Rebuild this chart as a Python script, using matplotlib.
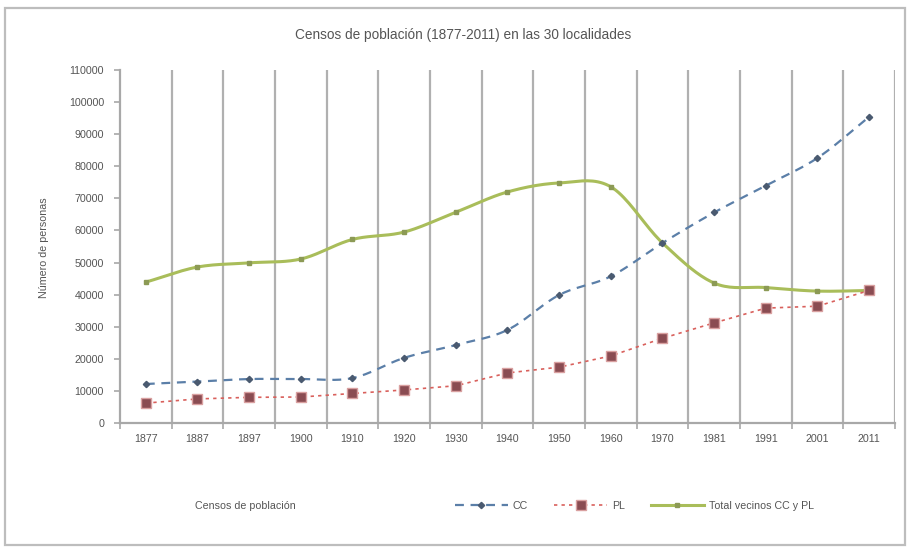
import numpy as np
import matplotlib
matplotlib.use("Agg")
import matplotlib.pyplot as plt
from matplotlib.lines import Line2D
from matplotlib.patches import Rectangle

# Census years and population per group
years = ["1877", "1887", "1897", "1900", "1910", "1920", "1930", "1940",
         "1950", "1960", "1970", "1981", "1991", "2001", "2011"]
cc = [12150, 12900, 13700, 13700, 14000, 20300, 24300, 29000,
      39900, 45700, 56100, 65600, 74000, 82600, 95400]
pl = [6200, 7500, 8000, 8100, 9200, 10300, 11600, 15600,
      17400, 20900, 26400, 31200, 35800, 36400, 41300]
total = [43900, 48600, 49900, 51100, 57200, 59500, 65700, 72000,
         74800, 73600, 56100, 43600, 42200, 41100, 41300]

title = "Censos de población (1877-2011) en las 30 localidades"
ylabel = "Número de personas"
legend_title = "Censos de población"
names = ["CC", "PL", "Total vecinos CC y PL"]


def smooth(x, y, n=20):
    """Catmull-Rom curve through the points, for a smoothed line."""
    x = np.asarray(x, float)
    y = np.asarray(y, float)
    px = np.concatenate([[2 * x[0] - x[1]], x, [2 * x[-1] - x[-2]]])
    py = np.concatenate([[2 * y[0] - y[1]], y, [2 * y[-1] - y[-2]]])
    xs, ys = [], []
    t = np.linspace(0, 1, n, endpoint=False)
    for i in range(1, len(px) - 2):
        for arr, out in ((px, xs), (py, ys)):
            p0, p1, p2, p3 = arr[i - 1], arr[i], arr[i + 1], arr[i + 2]
            seg = 0.5 * ((2 * p1) + (-p0 + p2) * t +
                         (2 * p0 - 5 * p1 + 4 * p2 - p3) * t ** 2 +
                         (-p0 + 3 * p1 - 3 * p2 + p3) * t ** 3)
            out.extend(seg)
    xs.append(x[-1])
    ys.append(y[-1])
    return np.array(xs), np.array(ys)


plt.rcParams["font.family"] = ["Liberation Sans", "DejaVu Sans"]
TXT = "#555555"
FS = 7.7

fig = plt.figure(figsize=(9.09, 5.48), dpi=100)
fig.patch.set_facecolor("white")
fig.patches.append(Rectangle((5 / 909, 3 / 548), 900 / 909, 537 / 548,
                             transform=fig.transFigure, fill=False,
                             edgecolor="#bdbdbd", linewidth=1.6))

ax = fig.add_axes([120 / 909, 1 - 423 / 548, 775 / 909, 353 / 548])
x = np.arange(len(years))

c_cc = "#5b7fa8"
c_pl = "#d9605c"
c_tot = "#a9bd5a"

# vertical gridlines at category boundaries
for b in np.arange(len(years) + 1) - 0.5:
    if b > -0.5:
        ax.axvline(b, color="#b0b0b0", linewidth=1.6, zorder=1)

sx, sy = smooth(x, total)
ax.plot(sx, sy, color=c_tot, linewidth=2.2, zorder=3)
ax.plot(x, total, linestyle="none", marker="s", markersize=3.5,
        markerfacecolor="#8c9a55", markeredgecolor="#8c9a55", zorder=4)

sx, sy = smooth(x, cc)
ax.plot(sx, sy, color=c_cc, linewidth=1.6, linestyle=(0, (4, 3)), zorder=3)
ax.plot(x, cc, linestyle="none", marker="D", markersize=3.2,
        markerfacecolor="#4a5a70", markeredgecolor="#4a5a70", zorder=4)

ax.plot(x, pl, color=c_pl, linewidth=1.2, linestyle=(0, (2, 2.5)), zorder=3)
ax.plot(x, pl, linestyle="none", marker="s", markersize=7,
        markerfacecolor="#8a4c52", markeredgecolor="#d9a0a0", zorder=4)

ax.set_xlim(-0.5, len(years) - 0.5)
ax.set_ylim(0, 110000)
ax.set_yticks(np.arange(0, 110001, 10000))
ax.set_yticklabels([str(v) for v in range(0, 110001, 10000)])
ax.set_xticks(np.arange(len(years) + 1) - 0.5)
ax.set_xticklabels([])
ax.set_xticks(x, minor=True)
ax.set_xticklabels(years, minor=True)
ax.tick_params(axis="x", which="minor", length=0, pad=8, labelsize=FS,
               colors=TXT)
ax.tick_params(axis="x", which="major", length=4, color="#a8a8a8",
               width=1.2)
ax.tick_params(axis="y", length=4, color="#a8a8a8", width=1.2, pad=7.5,
               labelsize=FS, colors=TXT)

for s in ["top", "right"]:
    ax.spines[s].set_visible(False)
for s in ["left", "bottom"]:
    ax.spines[s].set_color("#a8a8a8")
    ax.spines[s].set_linewidth(1.6)

fig.text(463 / 909, 1 - 35 / 548, title, ha="center", va="center",
         fontsize=9.8, color=TXT)
fig.text(44 / 909, 1 - 248 / 548, ylabel, ha="center", va="center",
         rotation=90, fontsize=FS, color=TXT)
fig.text(195 / 909, 1 - 506 / 548, legend_title, ha="left", va="center",
         fontsize=FS, color=TXT)

handles = [
    Line2D([], [], color=c_cc, linewidth=1.6, linestyle=(0, (4, 3)),
           marker="D", markersize=3.2, markerfacecolor="#4a5a70",
           markeredgecolor="#4a5a70"),
    Line2D([], [], color=c_pl, linewidth=1.2, linestyle=(0, (2, 2.5)),
           marker="s", markersize=7, markerfacecolor="#8a4c52",
           markeredgecolor="#d9a0a0"),
    Line2D([], [], color=c_tot, linewidth=2.2, marker="s", markersize=3.5,
           markerfacecolor="#8c9a55", markeredgecolor="#8c9a55"),
]
leg = fig.legend(handles, names, loc="center left",
                 bbox_to_anchor=(445 / 909, 1 - 506 / 548), ncol=3,
                 frameon=False, fontsize=FS, handlelength=5.0,
                 columnspacing=2.4, handletextpad=0.45, numpoints=1)
for t in leg.get_texts():
    t.set_color(TXT)

fig.savefig("out.png", dpi=100, facecolor="white")
